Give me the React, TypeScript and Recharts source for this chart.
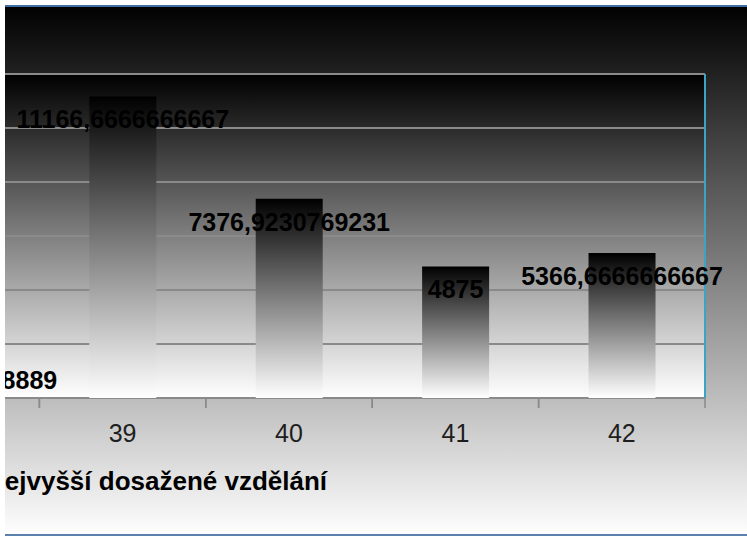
// Sloupcový graf: průměr podle nejvyššího dosaženého vzdělání
import React from "react";
import {
  BarChart,
  Bar,
  XAxis,
  YAxis,
  CartesianGrid,
  LabelList,
} from "recharts";

const categories = ["38", "39", "40", "41", "42"];
const averages = [1518.8888888889, 11166.6666666667, 7376.9230769231, 4875, 5366.6666666667];
const yTicks = [0, 2000, 4000, 6000, 8000, 10000, 12000];
const AXIS_TITLE = "Nejvyšší dosažené vzdělání";

const FONT = "'Liberation Sans', Arial, sans-serif";
const TICK_SIZE = 10;
const TICK_MARGIN = 16;

const rows = categories.map((cat, i) => ({ cat, value: averages[i] }));

// české desetinné číslo, max. 10 míst
const formatCz = (v: number) =>
  Number(v).toFixed(10).replace(/\.?0+$/, "").replace(".", ",");

// popisek kategorie + značky na hranách pásma (jako v LibreOffice)
function CategoryTick(props: any) {
  const { x, y, payload } = props;
  const half = payload?.offset ?? 0;
  const axisY = y - TICK_SIZE - TICK_MARGIN;
  return (
    <g>
      <line x1={x - half} x2={x - half} y1={axisY} y2={axisY + TICK_SIZE} stroke="#8a8a8a" strokeWidth={1.5} />
      <line x1={x + half} x2={x + half} y1={axisY} y2={axisY + TICK_SIZE} stroke="#8a8a8a" strokeWidth={1.5} />
      <text
        x={x}
        y={y}
        dy="0.71em"
        textAnchor="middle"
        fill="#1e1e1e"
        fontSize={25}
        fontFamily={FONT}
      >
        {payload.value}
      </text>
    </g>
  );
}

export default function App() {
  return (
    <div
      style={{
        position: "fixed",
        left: 0,
        top: 0,
        width: 747,
        height: 536,
        background: "#fff",
        overflow: "hidden",
      }}
    >
      <div
        style={{
          position: "absolute",
          left: 5,
          top: 5,
          width: 742,
          height: 531,
          overflow: "hidden",
          background: "linear-gradient(to bottom, #000 0%, #fff 100%)",
        }}
      >
        <div style={{ position: "absolute", left: -132, top: -5 }}>
          <BarChart
            width={874}
            height={536}
            data={rows}
            margin={{ top: 74, right: 41, left: 0, bottom: 98 }}
            barCategoryGap="30%"
          >
            <defs>
              <linearGradient id="plotBg" x1="0" y1="0" x2="0" y2="1">
                <stop offset="0%" stopColor="#000" />
                <stop offset="100%" stopColor="#fff" />
              </linearGradient>
              <linearGradient id="barFill" x1="0" y1="0" x2="0" y2="1">
                <stop offset="0%" stopColor="#000" />
                <stop offset="100%" stopColor="#fff" />
              </linearGradient>
            </defs>
            <CartesianGrid
              vertical={false}
              fill="url(#plotBg)"
              fillOpacity={1}
              stroke="#8a8a8a"
              strokeWidth={2}
              yAxisId="left"
            />
            <XAxis
              dataKey="cat"
              axisLine={false}
              tickLine={false}
              tickSize={TICK_SIZE}
              tickMargin={TICK_MARGIN}
              interval={0}
              height={40}
              tick={<CategoryTick />}
            />
            <YAxis yAxisId="left" domain={[0, 12000]} ticks={yTicks} hide />
            <YAxis
              yAxisId="right"
              orientation="right"
              domain={[0, 12000]}
              ticks={yTicks}
              width={1}
              tick={false}
              tickLine={false}
              axisLine={{ stroke: "#3ba3c4", strokeWidth: 2 }}
            />
            <Bar
              yAxisId="left"
              dataKey="value"
              fill="url(#barFill)"
              isAnimationActive={false}
            >
              <LabelList
                dataKey="value"
                position="insideTop"
                offset={14}
                formatter={(v: number) => formatCz(v)}
                style={{ fill: "#000", fontSize: 25, fontWeight: "bold", fontFamily: FONT }}
              />
            </Bar>
            <text
              x={113}
              y={490}
              fill="#000"
              fontSize={26}
              fontWeight="bold"
              fontFamily={FONT}
            >
              {AXIS_TITLE}
            </text>
          </BarChart>
        </div>
        <div style={{ position: "absolute", left: 0, top: 0, width: 742, height: 2, background: "#3f6ea8" }} />
        <div style={{ position: "absolute", left: 0, top: 529, width: 742, height: 2, background: "#5b80ad" }} />
      </div>
    </div>
  );
}
